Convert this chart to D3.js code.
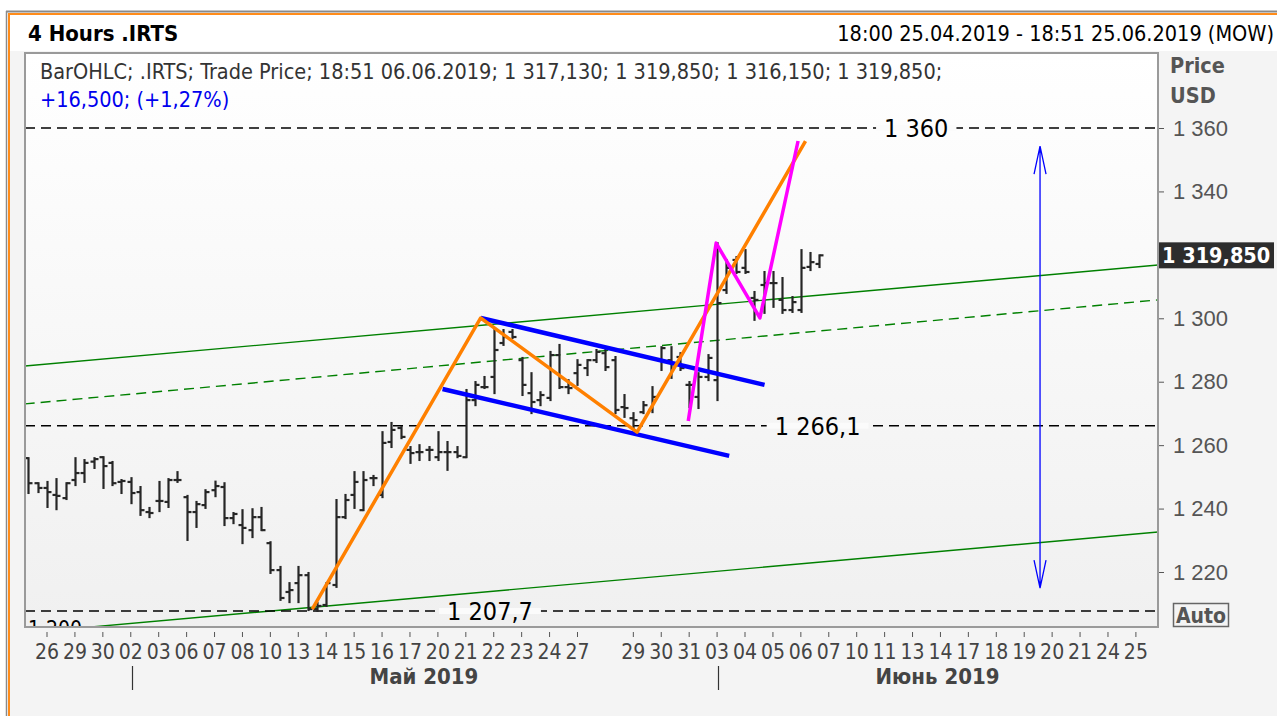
<!DOCTYPE html>
<html>
<head>
<meta charset="utf-8">
<script src="https://cdn.jsdelivr.net/npm/d3@7"></script>
<style>
  body { margin: 0; background: #fff; }
  svg { display: block; font-family: 'DejaVu Sans Condensed', 'DejaVu Sans', sans-serif; font-stretch: condensed; }
</style>
</head>
<body>
<svg id="chart" width="1277" height="716"></svg>
<script>
// 4h bars of .IRTS, 25.04.2019 18:00 .. 06.06.2019 18:51
const opens = [1255.9, 1248.0, 1246.5, 1244.3, 1243.3, 1249.0, 1251.2, 1254.8, 1256.2, 1254.4,
  1248.4, 1248.4, 1245.2, 1238.9, 1242.4, 1242.1, 1249.0, 1243.6, 1238.9, 1241.1,
  1245.8, 1246.8, 1237.0, 1234.8, 1233.2, 1237.3, 1229.1, 1220.6, 1213.7, 1216.5,
  1219.0, 1208.3, 1209.6, 1215.9, 1237.3, 1244.3, 1239.5, 1249.6, 1244.3, 1261.0,
  1265.4, 1258.5, 1257.8, 1258.5, 1256.2, 1257.8, 1257.8, 1256.2, 1274.2, 1278.3,
  1281.5, 1292.2, 1295.7, 1286.8, 1276.4, 1274.2, 1274.9, 1288.4, 1278.3, 1282.7,
  1284.3, 1286.8, 1289.0, 1286.8, 1272.0, 1268.5, 1270.4, 1271.1, 1286.8, 1286.8,
  1287.8, 1279.0, 1275.2, 1281.5, 1280.5, 1308.9, 1318.4, 1315.9, 1306.4, 1310.5,
  1311.1, 1305.8, 1302.6, 1302.6, 1316.2, 1317.13];
const highs = [1255.9, 1248.0, 1248.4, 1249.3, 1248.0, 1255.9, 1255.3, 1255.9, 1256.2, 1254.7,
  1249.0, 1249.6, 1246.8, 1240.2, 1248.4, 1249.3, 1251.5, 1244.0, 1242.1, 1245.8,
  1248.5, 1248.0, 1238.6, 1239.5, 1239.8, 1240.2, 1229.4, 1221.6, 1216.5, 1221.6,
  1219.7, 1210.2, 1216.5, 1242.7, 1244.3, 1251.5, 1251.5, 1250.3, 1264.1, 1267.0,
  1265.7, 1259.4, 1260.0, 1259.4, 1264.1, 1261.0, 1259.4, 1277.4, 1279.9, 1281.5,
  1296.3, 1296.3, 1296.3, 1287.5, 1282.7, 1276.7, 1289.4, 1291.6, 1280.5, 1286.8,
  1286.8, 1290.0, 1290.0, 1287.8, 1275.8, 1270.1, 1273.6, 1278.3, 1290.9, 1290.9,
  1289.0, 1279.9, 1282.7, 1288.4, 1323.7, 1318.4, 1319.3, 1321.5, 1308.3, 1314.6,
  1314.6, 1312.7, 1306.7, 1321.5, 1320.6, 1319.85];
const lows = [1244.9, 1245.2, 1240.5, 1239.8, 1243.0, 1247.4, 1248.4, 1252.8, 1246.5, 1247.4,
  1244.9, 1241.7, 1238.0, 1237.3, 1239.2, 1240.5, 1248.4, 1230.1, 1234.2, 1240.2,
  1243.9, 1234.8, 1235.4, 1229.1, 1231.0, 1233.2, 1219.7, 1211.2, 1210.5, 1210.5,
  1208.0, 1207.7, 1209.3, 1215.3, 1237.0, 1240.2, 1239.5, 1247.4, 1243.6, 1259.4,
  1262.2, 1254.4, 1255.3, 1255.3, 1255.3, 1252.2, 1256.2, 1256.2, 1272.6, 1278.0,
  1276.4, 1291.6, 1293.8, 1275.8, 1270.1, 1272.6, 1274.2, 1278.0, 1276.4, 1279.0,
  1282.1, 1286.2, 1283.7, 1270.1, 1268.9, 1265.4, 1270.1, 1270.4, 1283.7, 1281.2,
  1283.7, 1272.0, 1271.7, 1280.5, 1274.2, 1308.0, 1314.3, 1314.3, 1299.5, 1301.7,
  1303.6, 1301.7, 1302.0, 1302.0, 1315.2, 1316.15];
const closes = [1248.0, 1246.5, 1245.2, 1244.0, 1248.0, 1251.2, 1254.4, 1255.6, 1253.4, 1248.0,
  1248.7, 1244.9, 1239.5, 1238.6, 1242.4, 1249.0, 1249.0, 1238.9, 1241.4, 1245.2,
  1247.1, 1237.0, 1238.3, 1233.9, 1237.3, 1233.2, 1220.6, 1211.8, 1214.3, 1219.0,
  1208.3, 1209.3, 1216.5, 1237.3, 1242.7, 1248.4, 1249.0, 1249.6, 1260.7, 1264.8,
  1262.6, 1257.5, 1257.8, 1258.5, 1257.8, 1257.8, 1256.6, 1274.2, 1279.0, 1278.3,
  1290.0, 1294.1, 1294.1, 1279.0, 1273.6, 1275.8, 1288.4, 1278.3, 1278.0, 1285.3,
  1286.8, 1289.4, 1284.6, 1271.1, 1271.7, 1267.9, 1272.6, 1275.2, 1290.6, 1285.9,
  1284.3, 1279.0, 1281.5, 1287.5, 1304.8, 1315.9, 1314.6, 1314.6, 1305.8, 1311.1,
  1311.1, 1302.6, 1305.1, 1315.9, 1317.7, 1319.85];

// trading days on the time axis (3 bars per day), '' = day without label
const dayLabels = ['26', '29', '30', '02', '03', '06', '07', '08', '10', '13',
  '14', '15', '16', '17', '20', '21', '22', '23', '24', '27',
  '', '29', '30', '31', '03', '04', '05', '06', '07', '10',
  '11', '13', '14', '17', '18', '19', '20', '21', '24', '25'];
const months = ['Май 2019', 'Июнь 2019'];
const monthStartDay = [3, 24];
const priceTicks = [1220, 1240, 1260, 1280, 1300, 1320, 1340, 1360];
const lastPrice = 1319.85;

// drawn objects, points are [bar index, price]
const levels = [1360, 1266.1, 1207.7];
const levelLabels = ['1 360', '1 266,1', '1 207,7'];
const channelUpper = [[-0.4, 1284.95], [121.4, 1316.8]];
const channelLower = [[-0.4, 1200.8], [121.4, 1232.6]];
const channelMid = [[-0.4, 1273.0], [121.4, 1305.8]];
const flagUpper = [[48.6, 1300.1], [79.1, 1279.0]];
const flagLower = [[44.5, 1277.7], [75.3, 1256.6]];
const zigzagOrange = [[30.5, 1208.3], [48.6, 1300.1], [65.4, 1264.1], [83.5, 1355.9]];
const zigzagPink = [[70.9, 1267.6], [73.9, 1323.7], [78.6, 1300.1], [82.7, 1355.9]];
const rangeArrow = [[108.7, 1354.3], [108.7, 1214.9]];

const svg = d3.select('#chart');
const W = 1277, H = 716;
const plot = { left: 25, right: 1158, top: 53, bottom: 627 };

const x = d3.scaleLinear().domain([0, 120]).range([28.4, 1145.2]);
const y = d3.scaleLinear().domain([1220, 1360]).range([572, 128]);
const dayIdx = k => 2 + 3 * k;

// background
const defs = svg.append('defs');
const grad = defs.append('linearGradient').attr('id', 'bg').attr('x1', 0).attr('x2', 0).attr('y1', 0).attr('y2', 1);
grad.append('stop').attr('offset', '0%').attr('stop-color', '#ffffff');
grad.append('stop').attr('offset', '100%').attr('stop-color', '#f0f0f0');
defs.append('clipPath').attr('id', 'clip').append('rect')
  .attr('x', plot.left).attr('y', plot.top)
  .attr('width', plot.right - plot.left).attr('height', plot.bottom - plot.top);

svg.append('rect').attr('x', 9).attr('y', 14).attr('width', W - 9).attr('height', H - 14).attr('fill', '#f4f4f4');
svg.append('rect').attr('x', 10).attr('y', 15).attr('width', W - 10).attr('height', 36).attr('fill', '#ffffff');
svg.append('line').attr('x1', 6).attr('x2', W).attr('y1', 11.5).attr('y2', 11.5).attr('stroke', '#8a8a8a').attr('stroke-width', 2);
svg.append('line').attr('x1', 9).attr('x2', W).attr('y1', 14).attr('y2', 14).attr('stroke', '#ff8c1a').attr('stroke-width', 2);
svg.append('line').attr('x1', 9).attr('x2', 9).attr('y1', 13).attr('y2', H).attr('stroke', '#ff8c1a').attr('stroke-width', 2);
svg.append('line').attr('x1', 6.5).attr('x2', 6.5).attr('y1', 11).attr('y2', H).attr('stroke', '#8a8a8a').attr('stroke-width', 1.5);

svg.append('rect')
  .attr('x', plot.left).attr('y', plot.top)
  .attr('width', plot.right - plot.left).attr('height', plot.bottom - plot.top)
  .attr('fill', 'url(#bg)');

// header
svg.append('text').attr('x', 28).attr('y', 41).attr('font-size', 22).attr('font-weight', 'bold')
  .attr('fill', '#000').text('4 Hours .IRTS');
svg.append('text').attr('x', 1274).attr('y', 41).attr('font-size', 21.5).attr('text-anchor', 'end')
  .attr('fill', '#000').text('18:00 25.04.2019 - 18:51 25.06.2019 (MOW)');

const g = svg.append('g').attr('clip-path', 'url(#clip)');
const line = d3.line().x(d => x(d[0])).y(d => y(d[1]));

// channel
g.append('path').attr('d', line(channelUpper)).attr('fill', 'none').attr('stroke', '#008000').attr('stroke-width', 1.4);
g.append('path').attr('d', line(channelLower)).attr('fill', 'none').attr('stroke', '#008000').attr('stroke-width', 1.4);
g.append('path').attr('d', line(channelMid)).attr('fill', 'none').attr('stroke', '#008000').attr('stroke-width', 1.4)
  .attr('stroke-dasharray', '10 6');

// label of the lower channel, cut by the frame
g.append('text').attr('x', 28).attr('y', 636).attr('font-size', 21).attr('fill', '#000').text('1 200');

// horizontal levels
levels.forEach(v => {
  g.append('line').attr('x1', plot.left).attr('x2', plot.right).attr('y1', y(v)).attr('y2', y(v))
    .attr('stroke', '#000').attr('stroke-width', 1.5).attr('stroke-dasharray', '10 6');
});
const labelIdx = [95.4, 84.8, 49.6];
levels.forEach((v, i) => {
  const t = g.append('text').attr('x', x(labelIdx[i])).attr('y', y(v) + 9).attr('font-size', 25)
    .attr('text-anchor', 'middle').attr('fill', '#000').text(levelLabels[i]);
  const bb = t.node().getBBox();
  g.insert('rect', () => t.node()).attr('x', bb.x - 8).attr('y', y(v) - 3).attr('width', bb.width + 16).attr('height', 6)
    .attr('fill', '#fbfbfb');
});

// OHLC bars
const bars = g.append('g').attr('stroke', '#262626').attr('stroke-width', 2.2);
opens.forEach((o, i) => {
  const cx = Math.round(x(i)) + 0.5;
  bars.append('line').attr('x1', cx).attr('x2', cx).attr('y1', y(highs[i]) - 1).attr('y2', y(lows[i]) + 1);
  bars.append('line').attr('x1', cx - 4).attr('x2', cx).attr('y1', y(o)).attr('y2', y(o));
  bars.append('line').attr('x1', cx).attr('x2', cx + 4).attr('y1', y(closes[i])).attr('y2', y(closes[i]));
});

// flag
[flagUpper, flagLower].forEach(p => {
  g.append('path').attr('d', line(p)).attr('fill', 'none').attr('stroke', '#0000ff').attr('stroke-width', 4.5);
});
// zigzags
g.append('path').attr('d', line(zigzagOrange)).attr('fill', 'none').attr('stroke', '#ff8000').attr('stroke-width', 3.5)
  .attr('stroke-linejoin', 'round');
g.append('path').attr('d', line(zigzagPink)).attr('fill', 'none').attr('stroke', '#ff00ff').attr('stroke-width', 3.5)
  .attr('stroke-linejoin', 'round');

// range arrow
const ax = x(rangeArrow[0][0]), ay1 = y(rangeArrow[0][1]), ay2 = y(rangeArrow[1][1]);
g.append('path')
  .attr('d', `M${ax},${ay1}V${ay2}M${ax - 6},${ay1 + 28}L${ax},${ay1}L${ax + 6},${ay1 + 28}M${ax - 6},${ay2 - 28}L${ax},${ay2}L${ax + 6},${ay2 - 28}`)
  .attr('fill', 'none').attr('stroke', '#0000ff').attr('stroke-width', 1.3);

// legend
svg.append('text').attr('x', 40).attr('y', 79).attr('font-size', 21.5).attr('fill', '#333')
  .text('BarOHLC; .IRTS; Trade Price; 18:51 06.06.2019; 1 317,130; 1 319,850; 1 316,150; 1 319,850;');
svg.append('text').attr('x', 40).attr('y', 107).attr('font-size', 21.5).attr('fill', '#0000ee')
  .text('+16,500; (+1,27%)');

// frame
svg.append('rect')
  .attr('x', plot.left).attr('y', plot.top)
  .attr('width', plot.right - plot.left).attr('height', plot.bottom - plot.top)
  .attr('fill', 'none').attr('stroke', '#9a9a9a').attr('stroke-width', 2);

// price axis
const yAxis = d3.axisRight(y).tickValues(priceTicks).tickSize(5).tickPadding(9)
  .tickFormat(d => d3.format(',')(d).replace(',', ' '));
const ya = svg.append('g').attr('transform', `translate(${plot.right + 1},0)`).call(yAxis);
ya.select('.domain').remove();
ya.selectAll('.tick line').attr('stroke', '#555');
ya.selectAll('.tick text').attr('font-size', 22).attr('fill', '#555').attr('font-family', null);
ya.selectAll('.tick').filter(d => d === 1320).remove();

svg.append('text').attr('x', 1170).attr('y', 73).attr('font-size', 21.5).attr('font-weight', 'bold')
  .attr('fill', '#555').text('Price');
svg.append('text').attr('x', 1170).attr('y', 103).attr('font-size', 21.5).attr('font-weight', 'bold')
  .attr('fill', '#555').text('USD');

// last price box
svg.append('rect').attr('x', plot.right + 1).attr('y', y(lastPrice) - 13).attr('width', W - plot.right - 4).attr('height', 26)
  .attr('fill', '#2d2d2d');
svg.append('text').attr('x', plot.right + 4).attr('y', y(lastPrice) + 8).attr('font-size', 21.5).attr('font-weight', 'bold')
  .attr('fill', '#fff').text(d3.format(',.3f')(lastPrice).replace(',', ' ').replace('.', ','));

// Auto button
svg.append('rect').attr('x', 1173.5).attr('y', 603.5).attr('width', 55).attr('height', 23)
  .attr('fill', '#f4f4f4').attr('stroke', '#666').attr('stroke-width', 1.5);
svg.append('text').attr('x', 1201).attr('y', 623).attr('font-size', 21).attr('font-weight', 'bold')
  .attr('text-anchor', 'middle').attr('fill', '#555').text('Auto');

// time axis
const xa = svg.append('g');
dayLabels.forEach((lab, k) => {
  if (!lab) return;
  const px = x(dayIdx(k));
  xa.append('line').attr('x1', px).attr('x2', px).attr('y1', 632).attr('y2', 637).attr('stroke', '#555').attr('stroke-width', 1);
  xa.append('text').attr('x', px).attr('y', 659).attr('font-size', 21).attr('text-anchor', 'middle')
    .attr('fill', '#444').text(lab);
});
monthStartDay.forEach(k => {
  const px = Math.round(x(dayIdx(k))) + 1.5;
  xa.append('line').attr('x1', px).attr('x2', px).attr('y1', 666).attr('y2', 690).attr('stroke', '#333').attr('stroke-width', 1.2);
});
const monthEdges = [x(dayIdx(monthStartDay[0])), x(dayIdx(monthStartDay[1])), plot.right];
months.forEach((m, i) => {
  xa.append('text').attr('x', (monthEdges[i] + monthEdges[i + 1]) / 2).attr('y', 684).attr('font-size', 22)
    .attr('font-weight', 'bold').attr('text-anchor', 'middle').attr('fill', '#444').text(m);
});
</script>
</body>
</html>
